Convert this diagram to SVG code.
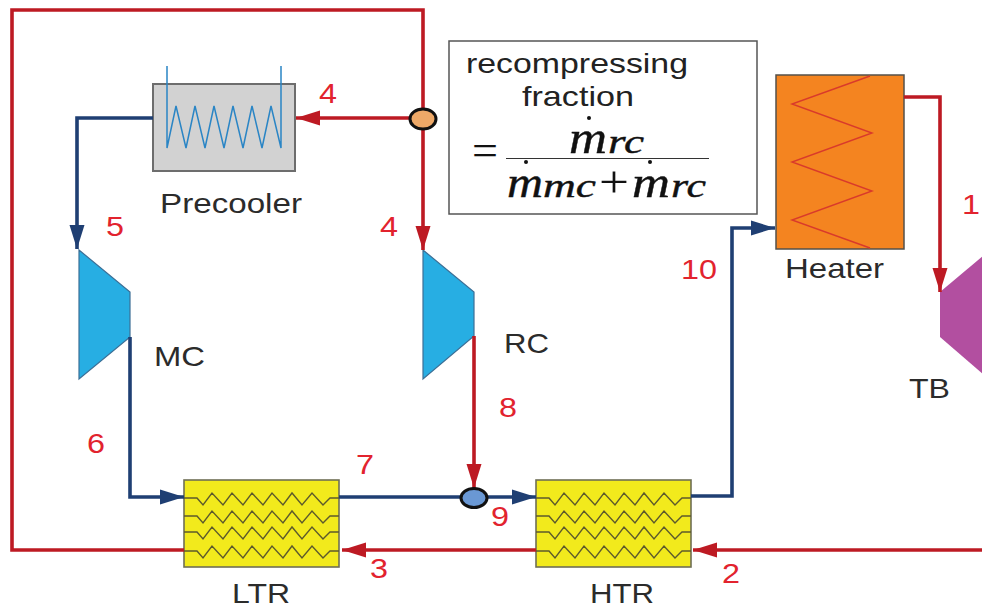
<svg xmlns="http://www.w3.org/2000/svg" width="982" height="609" viewBox="0 0 982 609">
<style>
text{lengthAdjust:spacingAndGlyphs}
.lbl{font-family:"Liberation Sans",Arial,sans-serif;font-size:28px;fill:#2b2b2b}
.num{font-family:"Liberation Sans",Arial,sans-serif;font-size:28px;fill:#e2232e}
.hot{fill:none;stroke:#bd1a23;stroke-width:3.6}
.cold{fill:none;stroke:#1f3f73;stroke-width:3.6}
.hx{fill:#f2ea1c;stroke:#6f6f55;stroke-width:1.6}
.zz{fill:none;stroke:#5d5a2c;stroke-width:1.4}
.turb{fill:#27aee3;stroke:#3c6f96;stroke-width:1.2}
.math{font-family:"Liberation Serif","Times New Roman",serif;font-style:italic;fill:#111;stroke:#111;stroke-width:.4}
.sym{font-family:"Liberation Serif","Times New Roman",serif;fill:#111}
</style>
<defs>
<marker id="ah" markerUnits="userSpaceOnUse" markerWidth="25" markerHeight="16" refX="24" refY="8" orient="auto"><path d="M0 0.5L24 8L0 15.5Z" fill="#bd1a23"/></marker>
<marker id="ac" markerUnits="userSpaceOnUse" markerWidth="25" markerHeight="16" refX="24" refY="8" orient="auto"><path d="M0 0.5L24 8L0 15.5Z" fill="#1f3f73"/></marker>
<path id="zz4" class="zz" d="M0 0H13L19 7L28 -5L39 7L48 -5L59 7L68 -5L79 7L88 -5L99 7L108 -5L118 7L128 -5L139 7L146 0H155"/>
</defs>

<g id="precooler">
<rect x="153" y="84" width="142" height="87" fill="#d2d2d2" stroke="#6d6d6d" stroke-width="2"/>
<path d="M167 66V148L176 106L186 148L195 106L205 148L214 106L224 148L233 106L243 148L252 106L262 148L271 106L281 148V66" fill="none" stroke="#2a85c5" stroke-width="1.5"/>
<text class="lbl" x="160" y="213" textLength="142" lengthAdjust="spacingAndGlyphs">Precooler</text>
</g>
<g id="heater">
<rect x="776" y="75" width="128" height="174" fill="#f48420" stroke="#54504a" stroke-width="1.5"/>
<path d="M870 76L792 104L872 133L792 162L872 191L792 220L870 248" fill="none" stroke="#d93a2b" stroke-width="1.4"/>
<text class="lbl" x="785" y="278" textLength="99" lengthAdjust="spacingAndGlyphs">Heater</text>
</g>
<g id="tb">
<path d="M983 256L940 292V337L983 374Z" fill="#b24fa0"/>
<text class="lbl" x="909" y="398" textLength="41" lengthAdjust="spacingAndGlyphs">TB</text>
</g>
<g id="mc">
<path class="turb" d="M79 250L130 292V337L79 379Z"/>
<text class="lbl" x="154" y="366" textLength="51" lengthAdjust="spacingAndGlyphs">MC</text>
</g>
<g id="rc">
<path class="turb" d="M423 250L474 292V336L423 379Z"/>
<text class="lbl" x="504" y="353" textLength="45" lengthAdjust="spacingAndGlyphs">RC</text>
</g>
<g id="ltr">
<rect x="184" y="480" width="155" height="87" class="hx"/>
<use href="#zz4" x="184" y="498"/><use href="#zz4" x="184" y="516"/><use href="#zz4" x="184" y="532"/><use href="#zz4" x="184" y="551"/>
<text class="lbl" x="232" y="603" textLength="58" lengthAdjust="spacingAndGlyphs">LTR</text>
</g>
<g id="htr">
<rect x="536" y="480" width="155" height="87" class="hx"/>
<use href="#zz4" x="536" y="498"/><use href="#zz4" x="536" y="516"/><use href="#zz4" x="536" y="532"/><use href="#zz4" x="536" y="551"/>
<text class="lbl" x="590" y="603" textLength="64" lengthAdjust="spacingAndGlyphs">HTR</text>
</g>

<g id="connectors">
<path class="hot" d="M983 550H693" marker-end="url(#ah)"/>
<path class="hot" d="M536 550H342" marker-end="url(#ah)"/>
<path class="hot" d="M184 550H12V10H423V250" marker-end="url(#ah)"/>
<path class="hot" d="M423 118H296" marker-end="url(#ah)"/>
<path class="hot" d="M904 97H940V292" marker-end="url(#ah)"/>
<path class="hot" d="M474 336V488" marker-end="url(#ah)"/>
<path class="cold" d="M153 118H77V249" marker-end="url(#ac)"/>
<path class="cold" d="M130 337V497H184" marker-end="url(#ac)"/>
<path class="cold" d="M339 497H536" marker-end="url(#ac)"/>
<path class="cold" d="M691 496H732V228H775" marker-end="url(#ac)"/>
</g>

<g id="split"><ellipse cx="423" cy="119" rx="13" ry="10" fill="#eea968" stroke="#111" stroke-width="3"/></g>
<g id="merge"><ellipse cx="474" cy="498" rx="13" ry="9.500" fill="#6a98d4" stroke="#111" stroke-width="3"/></g>
<g id="fraction">
<rect x="449" y="41" width="308" height="173" fill="#fff" stroke="#555" stroke-width="1.5"/>
<text class="lbl" x="466" y="73" textLength="222" lengthAdjust="spacingAndGlyphs" style="fill:#222">recompressing</text>
<text class="lbl" x="522" y="106" textLength="112" lengthAdjust="spacingAndGlyphs" style="fill:#222">fraction</text>
<text class="sym" x="472" y="165" font-size="44" textLength="26" lengthAdjust="spacingAndGlyphs">=</text>
<path d="M506 158.500H709" stroke="#333" stroke-width="1.2"/>
<circle cx="589" cy="118" r="2" fill="#111"/><circle cx="526" cy="162" r="2" fill="#111"/><circle cx="650" cy="162" r="2" fill="#111"/>
<text class="math" font-size="46" x="569" y="153" textLength="38" lengthAdjust="spacingAndGlyphs">m</text>
<text class="math" font-size="33" x="608" y="153" textLength="36" lengthAdjust="spacingAndGlyphs">rc</text>
<text class="math" font-size="44" x="507" y="197" textLength="36" lengthAdjust="spacingAndGlyphs">m</text>
<text class="math" font-size="33" x="543" y="197" textLength="53" lengthAdjust="spacingAndGlyphs">mc</text>
<text class="sym" font-size="44" x="599" y="197" textLength="30" lengthAdjust="spacingAndGlyphs">+</text>
<text class="math" font-size="44" x="632" y="197" textLength="38" lengthAdjust="spacingAndGlyphs">m</text>
<text class="math" font-size="33" x="671" y="197" textLength="35" lengthAdjust="spacingAndGlyphs">rc</text>
</g>
<g id="numbers">
<text class="num" x="319" y="103" textLength="18" lengthAdjust="spacingAndGlyphs">4</text>
<text class="num" x="380" y="236" textLength="18" lengthAdjust="spacingAndGlyphs">4</text>
<text class="num" x="106" y="236" textLength="18" lengthAdjust="spacingAndGlyphs">5</text>
<text class="num" x="87" y="453" textLength="18" lengthAdjust="spacingAndGlyphs">6</text>
<text class="num" x="356" y="474" textLength="18" lengthAdjust="spacingAndGlyphs">7</text>
<text class="num" x="499" y="417" textLength="18" lengthAdjust="spacingAndGlyphs">8</text>
<text class="num" x="491" y="526" textLength="18" lengthAdjust="spacingAndGlyphs">9</text>
<text class="num" x="681" y="279" textLength="36" lengthAdjust="spacingAndGlyphs">10</text>
<text class="num" x="962" y="214" textLength="18" lengthAdjust="spacingAndGlyphs">1</text>
<text class="num" x="722" y="583" textLength="18" lengthAdjust="spacingAndGlyphs">2</text>
<text class="num" x="370" y="578" textLength="18" lengthAdjust="spacingAndGlyphs">3</text>
</g>
</svg>
